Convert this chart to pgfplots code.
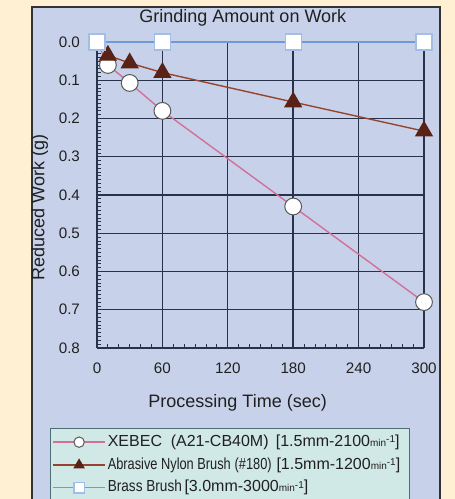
\documentclass[border=0pt]{standalone}
\usepackage{pgfplots}
\pgfplotsset{compat=1.18}
\usepackage{fontspec}
\setmainfont{Liberation Sans}
\usepackage{graphicx}
\definecolor{cream}{HTML}{FFF0D3}
\definecolor{panel}{HTML}{C7D2EA}
\definecolor{legfill}{HTML}{D0E8E6}
\definecolor{legdraw}{HTML}{4E6E76}
\definecolor{gridc}{HTML}{28324A}
\definecolor{pinkl}{HTML}{D2709A}
\definecolor{brownl}{HTML}{96442E}
\definecolor{brownm}{HTML}{5A2216}
\definecolor{bluel}{HTML}{6E9AD8}
\definecolor{blueedge}{HTML}{A2BEE6}
\definecolor{txt}{HTML}{202020}
\newcommand{\mn}{{\fontsize{5}{5}\selectfont min\raisebox{1.8pt}{-1}}}
\begin{document}
\begin{tikzpicture}
\path[use as bounding box] (0pt,0pt) rectangle (227.5pt,249.5pt);
\fill[cream] (0pt,0pt) rectangle (227.5pt,249.5pt);
\fill[panel] (16pt,-5pt) rectangle (220pt,246pt);
\draw[black!80, line width=1.1pt] (16pt,-5pt) -- (16pt,246pt) -- (220pt,246pt) -- (220pt,-5pt);
\begin{axis}[
  at={(48.5pt,75.5pt)}, anchor=south west,
  scale only axis, width=163.5pt, height=153pt,
  xmin=0, xmax=300, ymin=0, ymax=0.8, y dir=reverse,
  clip=false,
  font=\fontsize{7.6}{9}\selectfont,
  /pgf/number format/assume math mode=true,
  xtick={0,60,120,180,240},
  extra x ticks={300},
  extra x tick style={grid style={draw=white!70!panel, line width=0.5pt}},
  ytick={0,0.1,0.2,0.3,0.4,0.5,0.6,0.7,0.8},
  yticklabel style={/pgf/number format/fixed, /pgf/number format/fixed zerofill, /pgf/number format/precision=1},
  yticklabel style={xshift=-5pt, text=txt},
  xticklabel style={yshift=-3.8pt, text=txt},
  minor xtick={10,20,...,290},
  minor ytick={0.01,0.02,...,0.795},
  grid=major,
  major grid style={draw=gridc, line width=0.7pt},
  axis x line*=bottom, axis y line*=left,
  axis line style={draw=gridc, line width=0.9pt, -},
  tick style={draw=gridc, line width=0.4pt},
  tick align=inside, major tick length=0pt, minor tick length=2pt,
  every axis title shift=0pt,
  title={Grinding Amount on Work},
  title style={at={(axis description cs:0.446,1.078)}, anchor=center, font=\fontsize{9}{10}\selectfont, text=txt},
  xlabel={Processing Time (sec)},
  xlabel style={at={(axis description cs:0.43,-0.18)}, anchor=center, font=\fontsize{9}{10}\selectfont, text=txt},
  ylabel={Reduced Work (g)},
  ylabel style={at={(axis description cs:-0.175,0.46)}, anchor=center, font=\fontsize{9}{10}\selectfont, text=txt},
  legend cell align=left,
  legend style={at={(axis description cs:-0.144,-0.261)}, anchor=north west,
    fill=legfill, draw=legdraw, line width=0.5pt,
    font=\fontsize{8}{9}\selectfont, text=txt,
    row sep=1.6pt, inner xsep=1pt, inner ysep=2pt,
    nodes={inner sep=1pt, text height=6pt, text depth=1.8pt}},
  legend image code/.code={\draw[mark repeat=2,mark phase=2,mark size=2.6pt] plot coordinates {(0pt,0pt) (13pt,0pt) (26pt,0pt)};},
]
\addplot[pinkl, line width=0.7pt, mark=*, mark size=4.2pt, mark options={fill=white, draw=black!65, line width=0.5pt}]
  coordinates {(0,0) (10,0.06) (30,0.107) (60,0.18) (180,0.43) (300,0.68)};
\addlegendentry{\makebox[149pt][l]{XEBEC\hspace{0.55em}(A21-CB40M)\hspace{0.45em}[1.5mm-2100\mn]}}
\addplot[brownl, line width=0.7pt, mark=triangle*, mark size=4.6pt, mark options={fill=brownm, draw=brownm}]
  coordinates {(10,0.035) (30,0.055) (60,0.08) (180,0.157) (300,0.233)};
\addlegendentry{\scalebox{0.8}[1]{Abrasive Nylon Brush\hspace{0.3em}(\#180)}\hspace{0.3em}[1.5mm-1200\mn]}
\addplot[bluel, line width=0.7pt, mark=square*, mark size=4pt, mark options={fill=white, draw=blueedge, line width=0.6pt}]
  coordinates {(0,0) (60,0) (180,0) (300,0)};
\addlegendentry{\scalebox{0.85}[1]{Brass Brush}\,[3.0mm-3000\mn]}
\end{axis}
\end{tikzpicture}
\end{document}
